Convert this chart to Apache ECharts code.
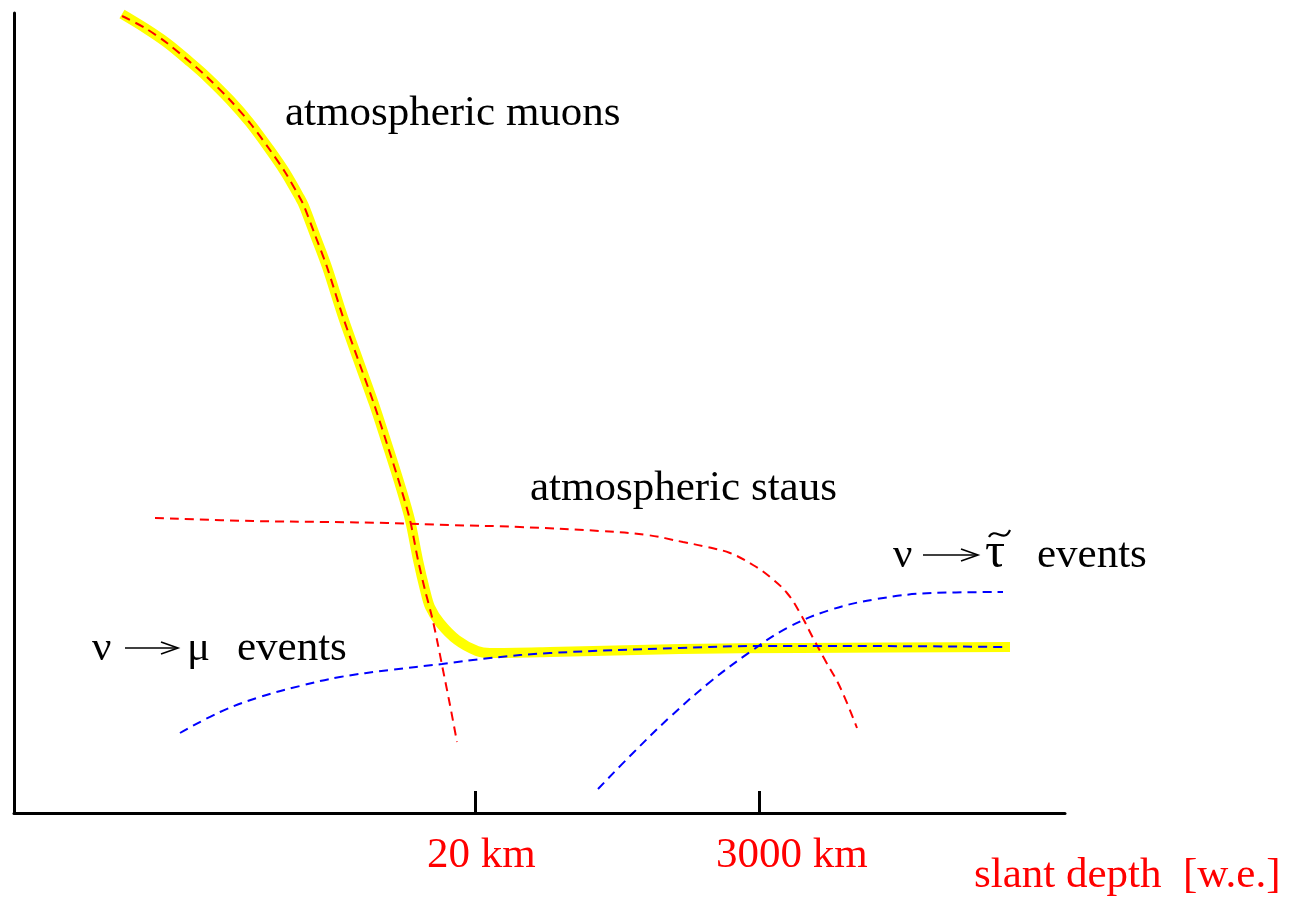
<!DOCTYPE html>
<html>
<head>
<meta charset="utf-8">
<script src="https://cdn.jsdelivr.net/npm/echarts@6/dist/echarts.min.js"></script>
<style>
  html, body { margin: 0; padding: 0; background: #fff; }
  #chart { width: 1292px; height: 898px; }
</style>
</head>
<body>
<div id="chart"></div>
<script>
// Schematic event rates versus slant depth (arbitrary units).
const muonDepth  = [108, 131, 153, 176, 193, 216, 236, 256, 271, 286, 290, 301, 313, 329, 346, 360, 374, 386, 396, 404, 411, 418, 423, 428, 436, 443];
const muonRate   = [797, 785, 770, 751, 736, 713, 690, 663, 641, 615, 607, 578, 546, 496, 448, 409, 366, 328, 293, 253, 223, 196, 173, 148, 108, 71];

// Envelope: muons at shallow depth, neutrino-induced muons beyond
const totalDepth = [108, 131, 153, 176, 193, 216, 236, 256, 271, 286, 290, 301, 313, 329, 346, 360, 374, 386, 396, 404, 411, 416, 426, 443, 463, 476, 536, 666, 786, 996];
const totalRate  = [799, 785, 770, 751, 736, 713, 690, 663, 641, 615, 607, 578, 546, 496, 448, 409, 366, 328, 293, 253, 223, 206, 190, 173, 162, 160, 161, 164, 165, 166];

const stauDepth  = [141, 239, 313, 373, 436, 506, 586, 633, 669, 693, 716, 739, 756, 773, 786, 799, 811, 826, 843];
const stauRate   = [295, 292, 291, 290, 288, 286, 282, 278, 271, 266, 260, 248, 236, 220, 200, 175, 153, 126, 85];

const nuMuDepth  = [166, 206, 246, 286, 326, 376, 428, 476, 536, 666, 746, 836, 991];
const nuMuRate   = [80, 101, 116, 127, 136, 143, 149, 155, 160, 165, 167, 167, 166];

const nuTauDepth = [584, 619, 656, 696, 736, 773, 816, 863, 919, 989];
const nuTauRate  = [24, 60, 96, 131, 161, 185, 203, 214, 220, 221];

const tickValues = [461, 745];
const tickLabels = ['20 km', '3000 km'];
const axisTitle  = 'slant depth  [w.e.]';

const pairs = (xs, ys) => xs.map((x, i) => [x, ys[i]]);

const RED = '#ff0000', BLUE = '#0000ff', YELLOW = '#ffff00';
const FONT = '"Liberation Serif", "Times New Roman", "DejaVu Serif", serif';
const FS = 43;

function dashed(name, data, color, smooth) {
  return {
    name, type: 'line', data, smooth, symbol: 'none', z: 3,
    lineStyle: { color, width: 2, type: [9, 6] }
  };
}

function text(str, x, baseline, color, size) {
  const fs = size || FS;
  return {
    type: 'text', left: x, top: baseline - fs * 0.80 + 2, silent: true,
    style: { text: str, fill: color, font: fs + 'px ' + FONT }
  };
}

// thin long arrow with an open head
function arrow(x1, x2, y) {
  const s = { stroke: '#000', lineWidth: 1.6, fill: null };
  return [
    { type: 'line', silent: true, shape: { x1, y1: y, x2: x2 - 1, y2: y }, style: s },
    { type: 'polyline', silent: true,
      shape: { points: [[x2 - 17, y - 6], [x2, y], [x2 - 17, y + 6]] }, style: s }
  ];
}

// tilde accent
function tilde(x, y) {
  return {
    type: 'bezierCurve', silent: true,
    shape: { x1: x, y1: y + 4, cpx1: x + 6, cpy1: y - 7, cpx2: x + 15, cpy2: y + 11, x2: x + 21, y2: y - 3 },
    style: { stroke: '#000', lineWidth: 2.2, fill: null }
  };
}

const chart = echarts.init(document.getElementById('chart'), null, { renderer: 'canvas' });

chart.setOption({
  animation: false,
  backgroundColor: '#ffffff',
  grid: { left: 14, top: 13, width: 1051, height: 800, containLabel: false },
  xAxis: {
    type: 'value', min: 0, max: 1051,
    splitLine: { show: false },
    axisLabel: { show: false },
    axisLine: { show: true, lineStyle: { color: '#000', width: 3 } },
    axisTick: { show: true, inside: true, length: 22, customValues: tickValues,
                lineStyle: { color: '#000', width: 3 } }
  },
  yAxis: {
    type: 'value', min: 0, max: 800,
    splitLine: { show: false },
    axisLabel: { show: false },
    axisTick: { show: false },
    axisLine: { show: true, lineStyle: { color: '#000', width: 3 } }
  },
  series: [
    {
      name: 'total', type: 'line', data: pairs(totalDepth, totalRate), smooth: 0.3,
      symbol: 'none', z: 2,
      lineStyle: { color: YELLOW, width: 10, cap: 'butt', join: 'round' }
    },
    dashed('atmospheric muons', pairs(muonDepth, muonRate), RED, 0.3),
    dashed('atmospheric staus', pairs(stauDepth, stauRate), RED, 0.4),
    dashed('nu mu', pairs(nuMuDepth, nuMuRate), BLUE, 0.4),
    dashed('nu stau', pairs(nuTauDepth, nuTauRate), BLUE, 0.4)
  ],
  graphic: [
    text('atmospheric muons', 285, 125, '#000'),
    text('atmospheric staus', 530, 500, '#000'),
    text('\u03bd', 92, 660, '#000'),
    ...arrow(125, 178, 648),
    text('\u03bc', 187, 660, '#000'),
    text('events', 237, 660, '#000'),
    text('\u03bd', 893, 567, '#000'),
    ...arrow(923, 978, 555),
    text('\u03c4', 985, 567, '#000', 50),
    tilde(989, 533),
    text('events', 1037, 567, '#000'),
    text(tickLabels[0], 427, 867, RED),
    text(tickLabels[1], 716, 867, RED),
    text(axisTitle, 974, 887, RED)
  ]
});
</script>
</body>
</html>
